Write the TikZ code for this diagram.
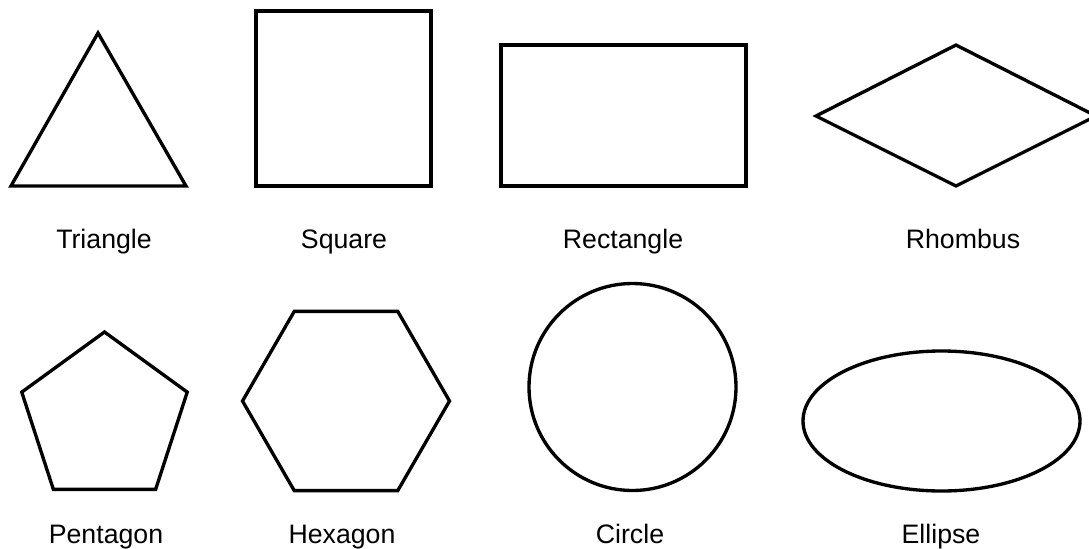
\documentclass[tikz,border=0pt]{standalone}
\usepackage{fontspec}
\setmainfont{Liberation Sans}
\begin{document}
\begin{tikzpicture}[x=0.02cm,y=-0.02cm,
  outline/.style={draw=black,line width=1.9pt,line join=miter},
  caption/.style={anchor=base,inner sep=0pt,font=\fontsize{15.2}{18}\selectfont}]
  \useasboundingbox (0,0) rectangle (1089,548);
  % top row: triangle, square, rectangle, rhombus
  \draw[outline] (98,33) -- (186,186) -- (11,186) -- cycle;
  \draw[outline] (256,11) rectangle (431,186);
  \draw[outline] (501,45) rectangle (746,186);
  \draw[outline] (816,116) -- (956,45) -- (1096,116) -- (956,186) -- cycle;
  \node[caption] (triangle) at (104,248) {Triangle};
  \node[caption] (square) at (344,248) {Square};
  \node[caption] (rectangle) at (623,248) {Rectangle};
  \node[caption] (rhombus) at (963,248) {Rhombus};
  % bottom row: pentagon, hexagon, circle, ellipse
  \draw[outline] (104.5,419) +(90:-87) -- +(18:-87) -- +(-54:-87) -- +(-126:-87) -- +(162:-87) -- cycle;
  \draw[outline] (346,401) +(0:103.5) -- +(60:103.5) -- +(120:103.5) -- +(180:103.5) -- +(240:103.5) -- +(300:103.5) -- cycle;
  \draw[outline] (632.5,387) circle[radius=103.5];
  \draw[outline] (941.5,421) ellipse[x radius=138.5,y radius=70];
  \node[caption] (pentagon) at (106,543) {Pentagon};
  \node[caption] (hexagon) at (342,543) {Hexagon};
  \node[caption] (circle) at (630,543) {Circle};
  \node[caption] (ellipse) at (941,543) {Ellipse};
\end{tikzpicture}
\end{document}
